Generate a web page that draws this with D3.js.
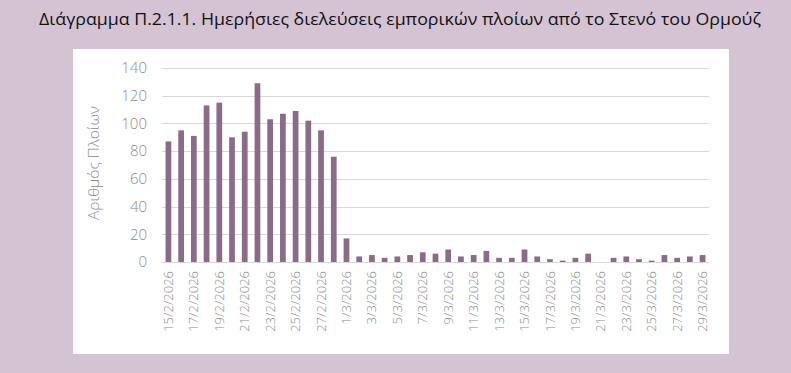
<!DOCTYPE html>
<html>
<head>
<meta charset="utf-8">
<script src="https://cdn.jsdelivr.net/npm/d3@7"></script>
<style>
  body { margin: 0; background: #d3c3d3; }
  svg { display: block; }
</style>
</head>
<body>
<div id="chart"></div>
<script>
const dates = [
    '15/2/2026', '16/2/2026', '17/2/2026', '18/2/2026', '19/2/2026', '20/2/2026', '21/2/2026',
    '22/2/2026', '23/2/2026', '24/2/2026', '25/2/2026', '26/2/2026', '27/2/2026', '28/2/2026',
    '1/3/2026', '2/3/2026', '3/3/2026', '4/3/2026', '5/3/2026', '6/3/2026', '7/3/2026',
    '8/3/2026', '9/3/2026', '10/3/2026', '11/3/2026', '12/3/2026', '13/3/2026', '14/3/2026',
    '15/3/2026', '16/3/2026', '17/3/2026', '18/3/2026', '19/3/2026', '20/3/2026', '21/3/2026',
    '22/3/2026', '23/3/2026', '24/3/2026', '25/3/2026', '26/3/2026', '27/3/2026', '28/3/2026',
    '29/3/2026'
];
const ships = [
    87, 95, 91, 113, 115, 90, 94,
    129, 103, 107, 109, 102, 95, 76,
    17, 4, 5, 3, 4, 5, 7,
    6, 9, 4, 5, 8, 3, 3,
    9, 4, 2, 1, 3, 6, 0,
    3, 4, 2, 1, 5, 3, 4,
    5
];
const yTicks = [0, 20, 40, 60, 80, 100, 120, 140];
const titleText = 'Διάγραμμα Π.2.1.1. Ημερήσιες διελεύσεις εμπορικών πλοίων από το Στενό του Ορμούζ';
const yTitle = 'Αριθμός Πλοίων';

function main() {
    const svgWidth = 791;
    const svgHeight = 373;
    const font = "'Open Sans', 'Noto Sans', sans-serif";

    const svg = d3.select('#chart').append('svg')
        .attr('width', svgWidth)
        .attr('height', svgHeight);

    svg.append('rect')
        .attr('width', svgWidth)
        .attr('height', svgHeight)
        .attr('fill', '#d3c3d3');

    svg.append('text')
        .attr('x', 400)
        .attr('y', 25)
        .attr('text-anchor', 'middle')
        .attr('fill', '#111')
        .style('font-family', font)
        .style('font-size', '17px')
        .attr('textLength', 722)
        .attr('lengthAdjust', 'spacingAndGlyphs')
        .text(titleText);

    // white panel
    svg.append('rect')
        .attr('x', 73)
        .attr('y', 49)
        .attr('width', 656)
        .attr('height', 305)
        .attr('fill', '#ffffff');

    const margin = {left: 162, right: 82, top: 68, bottom: 111};
    const width = svgWidth - margin.left - margin.right;
    const height = svgHeight - margin.top - margin.bottom;

    const g = svg.append('g')
        .attr('transform', `translate(${margin.left},${margin.top})`);

    const x = d3.scaleBand()
        .domain(dates)
        .range([0, width])
        .paddingInner(0.55)
        .paddingOuter(0.28);

    const y = d3.scaleLinear()
        .domain([0, 140])
        .range([height, 0]);

    // gridlines
    g.append('g')
        .selectAll('line')
        .data(yTicks)
        .enter()
        .append('line')
        .attr('x1', 0)
        .attr('x2', width)
        .attr('y1', d => Math.round(y(d)) + 0.5)
        .attr('y2', d => Math.round(y(d)) + 0.5)
        .attr('stroke', '#d9d9d9')
        .attr('stroke-width', 1);

    const yAxis = g.append('g')
        .call(d3.axisLeft(y).tickValues(yTicks).tickSize(0).tickPadding(15));
    yAxis.select('.domain').remove();
    yAxis.selectAll('text')
        .style('font-family', font)
        .style('font-weight', 300)
        .style('font-size', '15px')
        .attr('fill', '#8c8c8c');

    g.selectAll('.bar')
        .data(ships)
        .enter()
        .append('rect')
        .attr('class', 'bar')
        .attr('x', (d, i) => x(dates[i]))
        .attr('width', x.bandwidth())
        .attr('y', d => y(d))
        .attr('height', d => height - y(d))
        .attr('fill', '#8a6c89');

    const xAxis = g.append('g')
        .attr('transform', `translate(0,${height})`)
        .call(d3.axisBottom(x)
            .tickValues(dates.filter((d, i) => i % 2 === 0))
            .tickSize(0)
            .tickPadding(0));
    xAxis.select('.domain').remove();
    xAxis.selectAll('text')
        .attr('transform', 'rotate(-90)')
        .attr('x', -9)
        .attr('y', 0)
        .attr('dy', '0.35em')
        .style('text-anchor', 'end')
        .style('font-family', font)
        .style('font-weight', 300)
        .style('font-size', '13px')
        .attr('fill', '#8c8c8c');

    svg.append('text')
        .attr('transform', 'rotate(-90)')
        .attr('x', -163)
        .attr('y', 99)
        .attr('text-anchor', 'middle')
        .attr('fill', '#8c8c8c')
        .style('font-family', font)
        .style('font-weight', 300)
        .style('font-size', '15px')
        .attr('textLength', 114)
        .attr('lengthAdjust', 'spacingAndGlyphs')
        .text(yTitle);
}

main();
</script>
</body>
</html>
